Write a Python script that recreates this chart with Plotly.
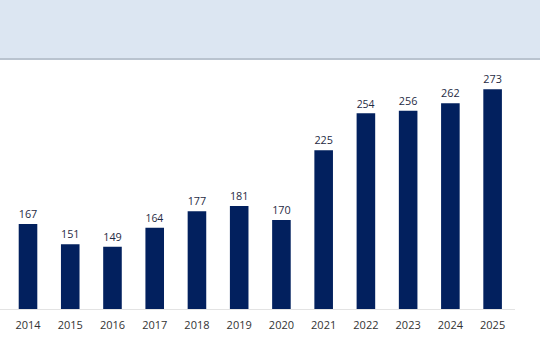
import plotly.graph_objects as go

years = [2014, 2015, 2016, 2017, 2018, 2019, 2020, 2021, 2022, 2023, 2024, 2025]
values = [167, 151, 149, 164, 177, 181, 170, 225, 254, 256, 262, 273]
tick_labels = [str(y) for y in years]

fig = go.Figure()
fig.add_trace(go.Bar(
    x=years, y=values, width=0.44,
    marker=dict(color="#02205e", line=dict(width=0)),
    text=[str(v) for v in values], textposition="outside",
    textfont=dict(family="Open Sans", size=11, color="#1f2b44"),
    cliponaxis=False,
))

fig.update_layout(
    width=540, height=360,
    margin=dict(l=0, r=25, t=60, b=51),
    paper_bgcolor="white", plot_bgcolor="white",
    showlegend=False,
    xaxis=dict(
        range=[2013.337, 2025.53],
        tickmode="array", tickvals=years, ticktext=tick_labels,
        showgrid=False, zeroline=False,
        showline=True, linecolor="#e3e3e3", linewidth=1,
        ticks="", ticklabelstandoff=6,
        tickfont=dict(family="Open Sans", size=11, color="#333333"),
    ),
    yaxis=dict(range=[100, 296], visible=False, showgrid=False, zeroline=False),
    shapes=[
        dict(type="rect", xref="paper", yref="paper", x0=-0.01, x1=1.1, y0=1.0, y1=1.25,
             fillcolor="#dce6f2", line=dict(width=0), layer="below"),
        dict(type="line", xref="paper", yref="paper", x0=-0.01, x1=1.1, y0=1.004, y1=1.004,
             line=dict(color="#b9c3cf", width=2)),
    ],
)

fig.write_html("out.html", config={"displayModeBar": False},
               post_script="document.body.style.margin='0';")
